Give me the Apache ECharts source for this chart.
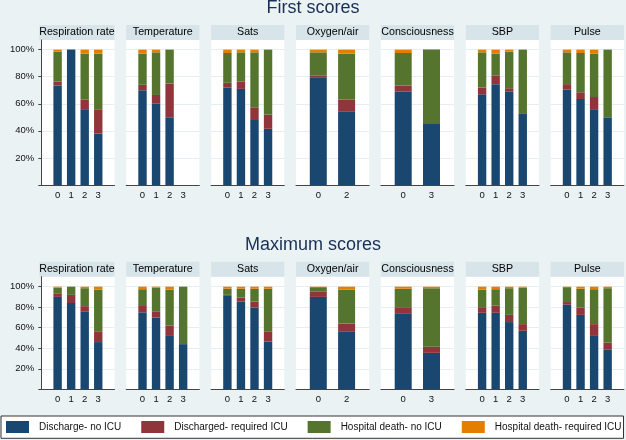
<!DOCTYPE html>
<html><head><meta charset="utf-8">
<script src="https://cdn.jsdelivr.net/npm/echarts@6/dist/echarts.min.js"></script>
<style>html,body{margin:0;padding:0;background:#eaf2f3}#c{width:626px;height:440px}</style>
</head><body><div id="c"></div>
<script>
const rowTitles = ['First scores', 'Maximum scores'];
const panelNames = ['Respiration rate', 'Temperature', 'Sats', 'Oxygen/air', 'Consciousness', 'SBP', 'Pulse'];
const panelCats = [['0','1','2','3'], ['0','1','2','3'], ['0','1','2','3'], ['0','2'], ['0','3'], ['0','1','2','3'], ['0','1','2','3']];
const outcomeNames = ['Discharge- no ICU', 'Discharged- required ICU', 'Hospital death- no ICU', 'Hospital death- required ICU'];

// First scores (percent), one list per panel, values per score category
const firstDischargeNoICU   = [[73.5,100,56,38],[70,60,50,null],[72,71,48,41.5],[79.5,54.5],[69,45],[67,74.5,69,52.5],[70.5,63.5,56,50]];
const firstDischargedICU    = [[3,0,7,17.5],[4,6.5,25,null],[3.5,5.5,9,10.5],[1.5,8.5],[4.5,0],[5,6.5,2.5,0],[4,5,9,0]];
const firstDeathNoICU       = [[22,0,34,41.5],[23,31.5,25,null],[22,21.5,41,48],[17,34],[24,55],[26,16,27,47.5],[23.5,29,32,50]];
const firstDeathICU         = [[1.5,0,3,3],[3,2,0,null],[2.5,2,2,0],[2,3],[2.5,0],[2,3,1.5,0],[2,2.5,3,0]];

// Maximum scores (percent)
const maxDischargeNoICU     = [[90,84,76,46],[75,70,52,44],[91,85.5,79.5,46.5],[90,56],[73.5,35.5],[74.5,74.5,65.5,57],[82.5,72.5,52,38.5]];
const maxDischargedICU      = [[3,8,5,10],[7,6,10,0],[1,4,6,9.5],[5,8],[6.5,6],[5.5,7,7,6.5],[2.5,7,11.5,7]];
const maxDeathNoICU         = [[6,8,17.5,41],[15.5,23,35,56],[6,8.5,12.5,42],[4.5,33],[18,57],[17,16,26,35.5],[14.5,18.5,34,53]];
const maxDeathICU           = [[1,0,1.5,3],[2.5,1,3,0],[2,2,2,2],[0.5,3],[2,1.5],[3,2.5,1.5,1],[0.5,2,2.5,1.5]];

const yTicks = [20, 40, 60, 80, 100];
const colors = ['#1a476f', '#90353b', '#55752f', '#e37e00'];
const FONT = '"Liberation Sans", Arial, sans-serif';

const chart = echarts.init(document.getElementById('c'), null, {renderer: 'canvas'});
const rows = [
  {data: [firstDischargeNoICU, firstDischargedICU, firstDeathNoICU, firstDeathICU], top: 40, height: 145, ymax: 107.1, titleY: 8, stripY: 25},
  {data: [maxDischargeNoICU, maxDischargedICU, maxDeathNoICU, maxDeathICU], top: 276.7, height: 112.6, ymax: 109.7, titleY: 245, stripY: 261.7}
];
const grids = [], xAxes = [], yAxes = [], series = [], graphics = [];
graphics.push({type: 'rect', z: 0, shape: {x: 1, y: 416, width: 622.5, height: 22.3}, style: {fill: '#fff', stroke: '#333', lineWidth: 1}});
rows.forEach((row, r) => {
  graphics.push({type: 'text', x: 313, y: row.titleY, style: {text: rowTitles[r], fontSize: 18, fontFamily: FONT, fill: '#1a2f55', align: 'center', verticalAlign: 'middle'}});
  panelNames.forEach((name, p) => {
    const left = 41.3 + 84.9 * p;
    const w = 73.2;
    const n = panelCats[p].length;
    const step = n === 4 ? 13.55 : 28.3;
    const firstCenter = n === 4 ? 16.3 : 22.3;
    // background panel grid (white plot region, gridlines, axis lines)
    const gb = grids.length;
    grids.push({left: left, top: row.top, width: w, height: row.height, show: true, backgroundColor: '#fff', borderWidth: 0});
    xAxes.push({gridIndex: gb, type: 'value', min: 0, max: 1, axisLine: {show: true, onZero: false, lineStyle: {color: '#444', width: 1}},
      axisTick: {show: false}, axisLabel: {show: false}, splitLine: {show: false}});
    yAxes.push({
      gridIndex: gb, type: 'value', min: 0, max: row.ymax, interval: 20,
      axisLine: {show: p === 0, lineStyle: {color: '#444', width: 1}},
      axisTick: {show: p === 0, length: 3, customValues: [0].concat(yTicks), lineStyle: {color: '#444'}},
      axisLabel: {show: p === 0, customValues: yTicks, formatter: v => v + '%', fontSize: 9.5, fontFamily: FONT, color: '#111', margin: 7},
      splitLine: {show: true, lineStyle: {color: '#e6eef2', width: 1}}
    });
    // bar grid (category bands)
    const gf = grids.length;
    grids.push({left: left + firstCenter - step / 2, top: row.top, width: step * n, height: row.height, show: false});
    xAxes.push({gridIndex: gf, type: 'category', data: panelCats[p], boundaryGap: true,
      axisLine: {show: false}, axisTick: {show: false}, splitLine: {show: false},
      axisLabel: {fontSize: 9.5, fontFamily: FONT, color: '#111', margin: 5, interval: 0}});
    yAxes.push({gridIndex: gf, type: 'value', min: 0, max: row.ymax, show: false, splitLine: {show: false}});
    graphics.push({type: 'rect', shape: {x: left - (p === 0 ? 2 : 0), y: row.stripY, width: w + (p === 0 ? 2 : 0), height: 15}, style: {fill: '#d7e4ea'}});
    graphics.push({type: 'text', x: left + w / 2 - (p === 0 ? 1 : 0), y: row.stripY + 7.5, style: {text: name, fontSize: 10.7, fontFamily: FONT, fill: '#000', align: 'center', verticalAlign: 'middle'}});
    for (let k = 0; k < 4; k++) {
      series.push({
        type: 'bar', name: outcomeNames[k], xAxisIndex: gf, yAxisIndex: gf, stack: 's' + gf,
        barWidth: n === 4 ? 8.4 : 17, itemStyle: {color: colors[k]}, silent: true,
        data: row.data[k][p]
      });
    }
  });
});
chart.setOption({
  animation: false,
  backgroundColor: '#eaf2f3',
  grid: grids, xAxis: xAxes, yAxis: yAxes, series: series,
  legend: {
    left: 6, top: 421, padding: 0, itemWidth: 23, itemHeight: 12, itemGap: 20, icon: 'rect',
    selectedMode: false, data: outcomeNames,
    textStyle: {fontSize: 10, fontFamily: FONT, color: '#111', padding: [0, 0, 0, 5]}
  },
  graphic: graphics
});
</script></body></html>
